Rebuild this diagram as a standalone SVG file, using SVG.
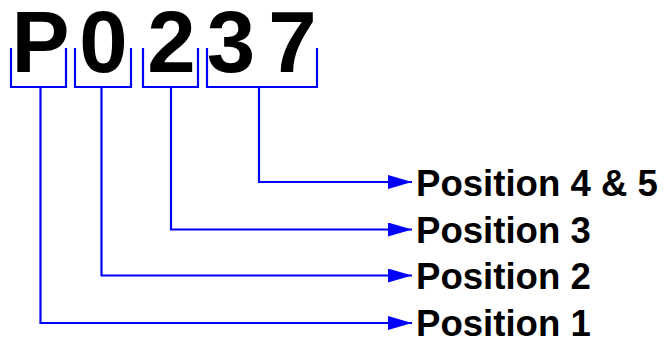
<svg xmlns="http://www.w3.org/2000/svg" width="667" height="337" viewBox="0 0 667 337">
<style>
.big{font-family:"Liberation Sans",Arial,sans-serif;font-weight:bold;font-size:87px;fill:#000;text-anchor:middle}
.lbl{font-family:"Liberation Sans",Arial,sans-serif;font-weight:bold;font-size:36.6px;fill:#000}
.ln{fill:none;stroke:#0000ff;stroke-width:2.2}
</style>
<defs>
<marker id="ah" markerUnits="userSpaceOnUse" markerWidth="24" markerHeight="14" refX="24" refY="7" orient="auto">
<path d="M0,0 L24,7 L0,14 Z" fill="#0000ff"/>
</marker>
</defs>
<g id="code">
<text class="big" x="40.5" y="72">P</text>
<text class="big" x="103.5" y="72">0</text>
<text class="big" x="171.5" y="72">2</text>
<text class="big" x="231" y="72">3</text>
<text class="big" x="292.5" y="72">7</text>
</g>
<g id="brackets">
<path class="ln" d="M11,48 V87 H66 V48"/>
<path class="ln" d="M75,48 V87 H131 V48"/>
<path class="ln" d="M143,48 V87 H198 V48"/>
<path class="ln" d="M207,48 V87 H317 V48"/>
</g>
<g id="connectors">
<path class="ln" d="M259,87 V182 H412" marker-end="url(#ah)"/>
<path class="ln" d="M171,87 V229.5 H412" marker-end="url(#ah)"/>
<path class="ln" d="M101.5,87 V275.5 H412" marker-end="url(#ah)"/>
<path class="ln" d="M40.5,87 V323 H412" marker-end="url(#ah)"/>
</g>
<g id="pos45"><text class="lbl" x="416" y="195.5">Position 4 &amp; 5</text></g>
<g id="pos3"><text class="lbl" x="416" y="243">Position 3</text></g>
<g id="pos2"><text class="lbl" x="416" y="289">Position 2</text></g>
<g id="pos1"><text class="lbl" x="416" y="336">Position 1</text></g>
</svg>
